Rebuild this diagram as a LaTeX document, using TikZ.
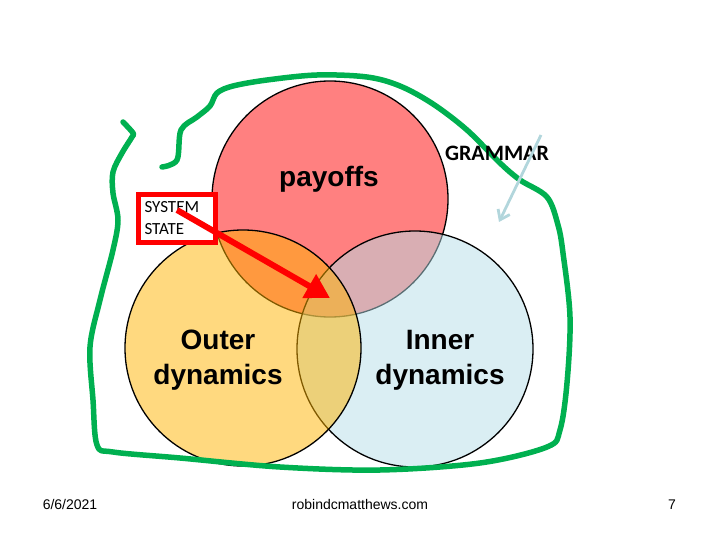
\documentclass[tikz,border=0pt]{standalone}
\usepackage{fontspec}
\setmainfont{Liberation Sans}
\newfontfamily\calibri{Carlito}
\usetikzlibrary{arrows.meta}
\definecolor{payred}{RGB}{255,128,128}
\definecolor{outeryellow}{RGB}{255,179,0}
\definecolor{innerblue}{RGB}{181,221,231}
\definecolor{loopgreen}{RGB}{0,176,80}
\definecolor{grammarblue}{RGB}{178,214,220}
\tikzset{
  venn/.style={circle, draw=black, line width=1.3pt, minimum size=236pt, inner sep=0pt},
  biglabel/.style={font=\fontsize{28}{35}\selectfont\bfseries, align=center},
  footer/.style={font=\fontsize{14}{16}\selectfont, anchor=base},
}
\begin{document}
\begin{tikzpicture}[x=1pt, y=-1pt]
\useasboundingbox (0,0) rectangle (720,540);
% circles
\node[venn, fill=payred] (payoffs) at (330,199) {};
\node[venn, fill=innerblue, fill opacity=0.5] (inner) at (415,349) {};
\node[venn, fill=outeryellow, fill opacity=0.5] (outer) at (243,348) {};
% hand drawn loop
\draw[loopgreen, line width=5.5pt, line cap=round, line join=round] plot[smooth, tension=0.55] coordinates {
  (162,167) (177,160) (181,130) (197,117) (210,106) (217,93) (233,86) (267,80) (317,75) (367,77)
  (400,86) (433,104) (467,130) (500,163) (520,180) (547,197) (558,225) (563,253) (570,317) (567,383)
  (560,430) (547,447) (480,463) (380,470) (280,467) (180,458) (113,452) (97,445) (93,400) (90,347)
  (100,300) (113,250) (118,220) (113,193) (113,172) (122,153) (132,137) (133,133) (123,122)};
% labels
\node[biglabel, anchor=base] (payofftext) at (329,187) {payoffs};
\node[biglabel] (outertext) at (218,360) {Outer\\dynamics};
\node[biglabel] (innertext) at (440,360) {Inner\\dynamics};
\node[font=\calibri\fontsize{22}{26}\selectfont\bfseries, anchor=base] (grammar) at (497,161) {GRAMMAR};
\node[draw=red, line width=5pt, fill=white, text width=65pt, inner xsep=6pt, minimum height=48pt,
  align=left, font=\calibri\fontsize{17}{22}\selectfont] (state) at (177,218.5) {SYSTEM\\STATE};
% arrows
\coordinate (statefrom) at (177,210);
\coordinate (stateto) at (330,298);
\draw[red, line width=6pt, -{Triangle[length=24pt, width=26pt]}] (statefrom) -- (stateto);
\coordinate (grammarfrom) at (541,135);
\coordinate (grammarto) at (499,222);
\draw[grammarblue, line width=2.8pt, -{Straight Barb[length=9pt, width=13pt]}] (grammarfrom) -- (grammarto);
% footer
\node[footer] (date) at (70,509) {6/6/2021};
\node[footer] (site) at (360,509) {robindcmatthews.com};
\node[footer] (page) at (672,509) {7};
\end{tikzpicture}
\end{document}
